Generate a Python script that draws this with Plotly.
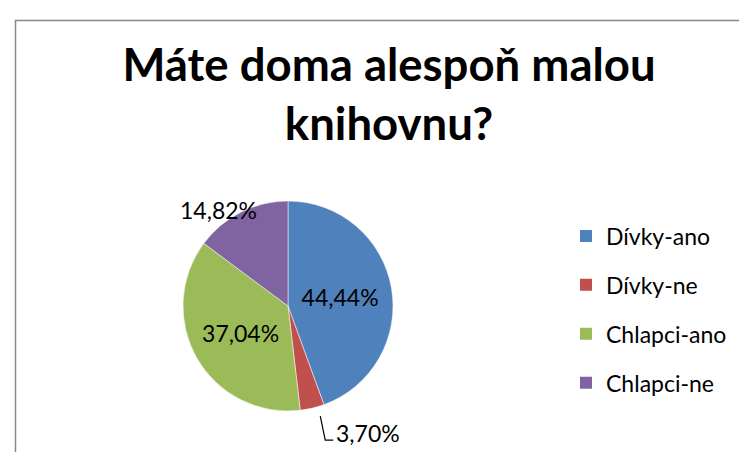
import math
import plotly.graph_objects as go

# data
kategorie = ["Dívky-ano", "Dívky-ne", "Chlapci-ano", "Chlapci-ne"]
procenta = [44.44, 3.70, 37.04, 14.82]
barvy = ["#4F81BD", "#C0504D", "#9BBB59", "#8064A2"]
nazev = "Máte doma alespoň malou<br>knihovnu?"

popisky = [f"{v:.2f}%".replace(".", ",") for v in procenta]
FONT = "Lato, 'Open Sans', sans-serif"
W, H = 747, 452

# kruh: střed a poloměr v pixelech -> doména
cx, cy, r = 280, 298, 105
dom_x = [(cx - r) / W, (cx + r) / W]
dom_y = [1 - (cy + r) / H, 1 - (cy - r) / H]

fig = go.Figure()
fig.add_trace(go.Pie(
    labels=kategorie, values=procenta, sort=False, direction="clockwise", rotation=0,
    marker=dict(colors=barvy, line=dict(color="white", width=0.5)),
    text=popisky, texttemplate="%{text}", textinfo="text",
    textposition=["inside", "none", "inside", "none"],
    insidetextorientation="horizontal",
    textfont=dict(size=23, color="black", family=FONT),
    domain=dict(x=dom_x, y=dom_y),
    showlegend=False, hoverinfo="label+text",
))

# vnější popisky malých výsečí (úhel podle hodnot)
ref_cx, ref_cy = 288, 306   # skutečný střed vykreslené výseče
celkem = sum(procenta)
zacatek = 0
stred_uhlu = []
for v in procenta:
    stred_uhlu.append((zacatek + v / 2) / celkem * 2 * math.pi)
    zacatek += v

# Dívky-ne: odkazová čára se zalomením
a = stred_uhlu[1]
px, py = ref_cx + r * math.sin(a), ref_cy - r * math.cos(a)
fig.add_shape(type="path", xref="paper", yref="paper",
              path=f"M {px/W},{1-py/H} L {(px+5)/W},{1-(py+24)/H} L {(px+13)/W},{1-(py+24)/H}",
              line=dict(color="black", width=1.2))
fig.add_annotation(x=(px + 14) / W, y=1 - (py + 17) / H, xref="paper", yref="paper",
                   text=popisky[1], showarrow=False, xanchor="left", yanchor="middle",
                   font=dict(size=23, family=FONT, color="black"))

# Chlapci-ne
a = stred_uhlu[3]
qx, qy = ref_cx + r * math.sin(a), ref_cy - r * math.cos(a)
fig.add_annotation(x=qx / W, y=1 - qy / H, xref="paper", yref="paper",
                   text=popisky[3], showarrow=False, xanchor="right", yanchor="bottom",
                   xshift=10, yshift=-6,
                   font=dict(size=23, family=FONT, color="black"))

# legenda (samostatné položky kvůli rozestupům)
for k, c in zip(kategorie, barvy):
    fig.add_trace(go.Scatter(x=[None], y=[None], mode="markers", name=k, legendgroup=k,
                             marker=dict(symbol="square", size=15, color=c)))

fig.add_shape(type="rect", xref="paper", yref="paper",
              x0=7.5 / W, x1=1.05, y0=-0.05, y1=1 - 12.5 / H,
              line=dict(color="#878787", width=1.5))

fig.update_layout(
    width=W, height=H, margin=dict(l=0, r=0, t=0, b=0),
    paper_bgcolor="white", plot_bgcolor="white",
    font=dict(family=FONT, color="black"),
    title=dict(text=nazev, x=381 / W, xanchor="center", y=1 - 72.5 / H, yanchor="middle",
               font=dict(size=45.5, family=FONT, color="black", weight="bold")),
    xaxis=dict(visible=False), yaxis=dict(visible=False),
    legend=dict(x=558 / W, y=1 - 206.5 / H, xanchor="left", yanchor="top",
                font=dict(size=23, family=FONT, color="black"),
                tracegroupgap=16, itemsizing="constant", bgcolor="rgba(0,0,0,0)"),
)

fig.write_html("out.html")
